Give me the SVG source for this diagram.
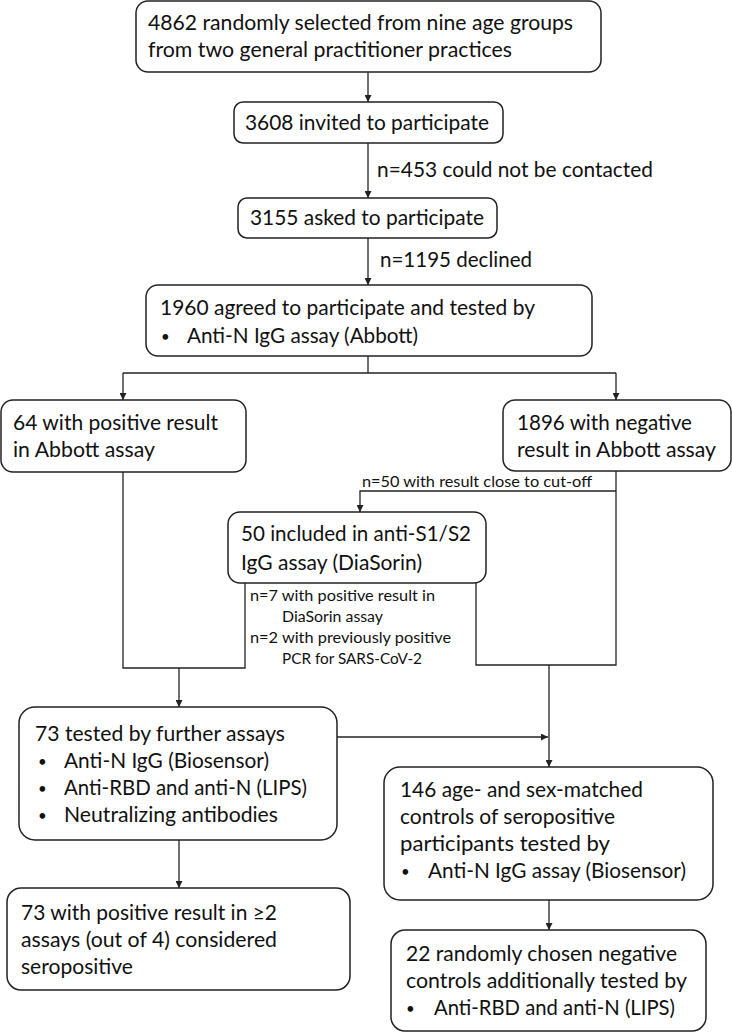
<svg xmlns="http://www.w3.org/2000/svg" width="732" height="1033" viewBox="0 0 732 1033">
<defs>
<marker id="ah" viewBox="0 0 10 10" refX="10" refY="5" markerWidth="7" markerHeight="7" markerUnits="userSpaceOnUse" orient="auto">
<path d="M0,0 L10,5 L0,10 z" fill="#222"/>
</marker>
<style>
.box{fill:#fff;stroke:#222;stroke-width:1.5}
.t{font-family:Lato,"Liberation Sans",sans-serif;font-size:20.5px;fill:#111}
.b{font-family:Lato,"Liberation Sans",sans-serif;font-size:15px;fill:#111}
.s{font-family:Lato,"Liberation Sans",sans-serif;font-size:14.5px;fill:#111}
.c{fill:none;stroke:#222;stroke-width:1.3}
</style>
</defs>
<rect width="732" height="1033" fill="#fff"/>
<g id="connectors">
<path class="c" d="M368,72 V102" marker-end="url(#ah)"/>
<path class="c" d="M368,143 V198" marker-end="url(#ah)"/>
<path class="c" d="M368,238 V285" marker-end="url(#ah)"/>
<path class="c" d="M368,356 V373"/>
<path class="c" d="M123,373 H616"/>
<path class="c" d="M123,373 V400" marker-end="url(#ah)"/>
<path class="c" d="M616,373 V400" marker-end="url(#ah)"/>
<path class="c" d="M616,471 V665 H476 V583"/>
<path class="c" d="M616,491 H360 V512" marker-end="url(#ah)"/>
<path class="c" d="M123,472 V668 H245 V583"/>
<path class="c" d="M179,668 V707" marker-end="url(#ah)"/>
<path class="c" d="M549,665 V767" marker-end="url(#ah)"/>
<path class="c" d="M337,737 H548" marker-end="url(#ah)"/>
<path class="c" d="M179,840 V888" marker-end="url(#ah)"/>
<path class="c" d="M549,900 V930" marker-end="url(#ah)"/>
<text class="t" x="377" y="177" textLength="276" lengthAdjust="spacingAndGlyphs">n=453 could not be contacted</text>
<text class="t" x="380" y="267" textLength="152" lengthAdjust="spacingAndGlyphs">n=1195 declined</text>
<text class="s" x="362" y="487" textLength="230" lengthAdjust="spacingAndGlyphs">n=50 with result close to cut-off</text>
<text class="s" x="250" y="601" textLength="185" lengthAdjust="spacingAndGlyphs">n=7 with positive result in</text>
<text class="s" x="282" y="622" textLength="101" lengthAdjust="spacingAndGlyphs">DiaSorin assay</text>
<text class="s" x="250" y="643" textLength="201" lengthAdjust="spacingAndGlyphs">n=2 with previously positive</text>
<text class="s" x="282" y="664" textLength="140" lengthAdjust="spacingAndGlyphs">PCR for SARS-CoV-2</text>
</g>
<g id="n1">
<rect class="box" x="136" y="1" width="465" height="71" rx="12"/>
<text class="t" x="148" y="30" textLength="425" lengthAdjust="spacingAndGlyphs">4862 randomly selected from nine age groups</text>
<text class="t" x="148" y="57" textLength="364" lengthAdjust="spacingAndGlyphs">from two general practitioner practices</text>
</g>
<g id="n2">
<rect class="box" x="234" y="102" width="269" height="41" rx="9"/>
<text class="t" x="245" y="130" textLength="244" lengthAdjust="spacingAndGlyphs">3608 invited to participate</text>
</g>
<g id="n3">
<rect class="box" x="238" y="198" width="259" height="40" rx="9"/>
<text class="t" x="250" y="225" textLength="234" lengthAdjust="spacingAndGlyphs">3155 asked to participate</text>
</g>
<g id="n4">
<rect class="box" x="146" y="285" width="446" height="71" rx="12"/>
<text class="t" x="160" y="315" textLength="375" lengthAdjust="spacingAndGlyphs">1960 agreed to participate and tested by</text>
<text class="b" x="161" y="342">•</text>
<text class="t" x="187" y="343" textLength="231" lengthAdjust="spacingAndGlyphs">Anti-N IgG assay (Abbott)</text>
</g>
<g id="n5">
<rect class="box" x="1" y="400" width="245" height="72" rx="12"/>
<text class="t" x="13" y="430" textLength="205" lengthAdjust="spacingAndGlyphs">64 with positive result</text>
<text class="t" x="13" y="457" textLength="142" lengthAdjust="spacingAndGlyphs">in Abbott assay</text>
</g>
<g id="n6">
<rect class="box" x="503" y="400" width="228" height="71" rx="12"/>
<text class="t" x="517" y="430" textLength="175" lengthAdjust="spacingAndGlyphs">1896 with negative</text>
<text class="t" x="517" y="457" textLength="199" lengthAdjust="spacingAndGlyphs">result in Abbott assay</text>
</g>
<g id="n7">
<rect class="box" x="228" y="512" width="258" height="71" rx="12"/>
<text class="t" x="241" y="541" textLength="230" lengthAdjust="spacingAndGlyphs">50 included in anti-S1/S2</text>
<text class="t" x="241" y="570" textLength="181" lengthAdjust="spacingAndGlyphs">IgG assay (DiaSorin)</text>
</g>
<g id="n8">
<rect class="box" x="19" y="707" width="318" height="133" rx="16"/>
<text class="t" x="35" y="741" textLength="250" lengthAdjust="spacingAndGlyphs">73 tested by further assays</text>
<text class="b" x="38" y="767">•</text>
<text class="t" x="64" y="768" textLength="205" lengthAdjust="spacingAndGlyphs">Anti-N IgG (Biosensor)</text>
<text class="b" x="38" y="794">•</text>
<text class="t" x="64" y="795" textLength="243" lengthAdjust="spacingAndGlyphs">Anti-RBD and anti-N (LIPS)</text>
<text class="b" x="38" y="821">•</text>
<text class="t" x="64" y="822" textLength="214" lengthAdjust="spacingAndGlyphs">Neutralizing antibodies</text>
</g>
<g id="n9">
<rect class="box" x="384" y="767" width="329" height="133" rx="16"/>
<text class="t" x="400" y="797" textLength="243" lengthAdjust="spacingAndGlyphs">146 age- and sex-matched</text>
<text class="t" x="400" y="824" textLength="215" lengthAdjust="spacingAndGlyphs">controls of seropositive</text>
<text class="t" x="400" y="851" textLength="210" lengthAdjust="spacingAndGlyphs">participants tested by</text>
<text class="b" x="401" y="877">•</text>
<text class="t" x="428" y="878" textLength="258" lengthAdjust="spacingAndGlyphs">Anti-N IgG assay (Biosensor)</text>
</g>
<g id="n10">
<rect class="box" x="7" y="888" width="343" height="102" rx="14"/>
<text class="t" x="21" y="920" textLength="256" lengthAdjust="spacingAndGlyphs">73 with positive result in ≥2</text>
<text class="t" x="21" y="947" textLength="256" lengthAdjust="spacingAndGlyphs">assays (out of 4) considered</text>
<text class="t" x="21" y="974" textLength="112" lengthAdjust="spacingAndGlyphs">seropositive</text>
</g>
<g id="n11">
<rect class="box" x="391" y="930" width="315" height="101" rx="14"/>
<text class="t" x="406" y="961" textLength="271" lengthAdjust="spacingAndGlyphs">22 randomly chosen negative</text>
<text class="t" x="406" y="988" textLength="281" lengthAdjust="spacingAndGlyphs">controls additionally tested by</text>
<text class="b" x="406" y="1014">•</text>
<text class="t" x="434" y="1015" textLength="241" lengthAdjust="spacingAndGlyphs">Anti-RBD and anti-N (LIPS)</text>
</g>
</svg>
